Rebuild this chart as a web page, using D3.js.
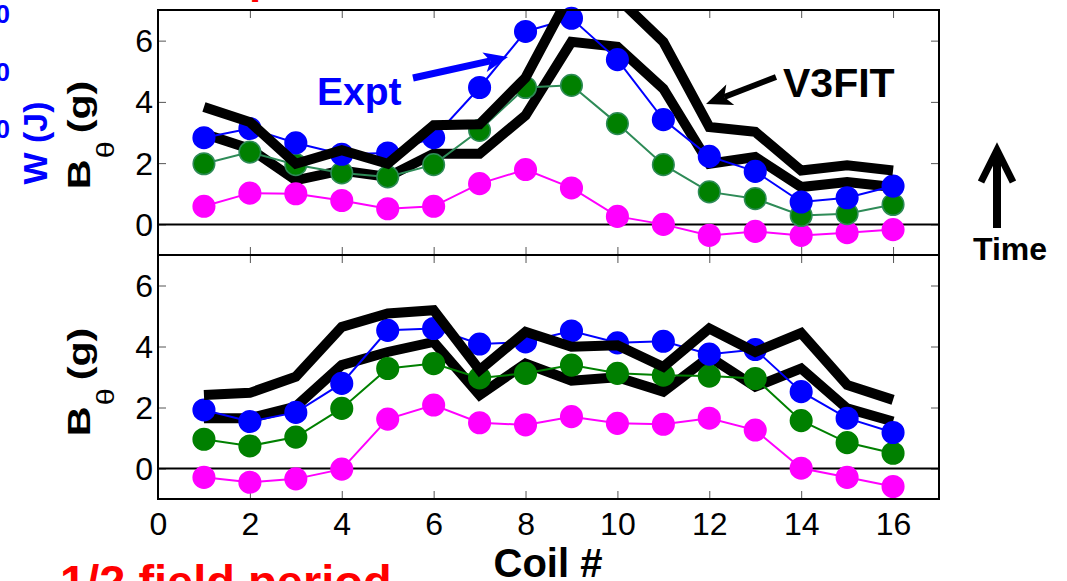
<!DOCTYPE html>
<html>
<head>
<meta charset="utf-8">
<script src="https://cdn.jsdelivr.net/npm/d3@7"></script>
<style>
  html, body { margin: 0; padding: 0; background: #fff; }
  svg { display: block; }
</style>
</head>
<body>
<div id="chart"></div>
<script>
// ── data ────────────────────────────────────────────────────
const coils = d3.range(1, 17);
const xTicks = [0, 2, 4, 6, 8, 10, 12, 14, 16];
const yTicks = [0, 2, 4, 6];

// upper panel
const topExpt    = [2.83, 3.13, 2.66, 2.29, 2.33, 2.83, 4.47, 6.30, 6.73, 5.38, 3.42, 2.22, 1.73, 0.73, 0.87, 1.25];
const topGreen   = [1.98, 2.36, 1.95, 1.68, 1.55, 1.95, 3.07, 4.47, 4.54, 3.29, 1.95, 1.06, 0.84, 0.29, 0.35, 0.65];
const topMagenta = [0.59, 1.02, 1.00, 0.78, 0.51, 0.59, 1.33, 1.79, 1.19, 0.26, 0.00, -0.36, -0.23, -0.36, -0.27, -0.17];
const topFitHi   = [3.83, 3.34, 1.98, 2.42, 1.98, 3.24, 3.27, 4.79, 7.60, 7.40, 5.96, 3.18, 3.02, 1.76, 1.93, 1.76];
const topFitLo   = [2.96, 2.47, 1.44, 1.76, 1.55, 2.31, 2.31, 3.56, 5.96, 5.80, 4.43, 1.98, 2.20, 1.22, 1.38, 1.22];

// lower panel
const botExpt    = [1.92, 1.54, 1.84, 2.79, 4.53, 4.59, 4.08, 4.15, 4.51, 4.12, 4.17, 3.75, 3.90, 2.52, 1.65, 1.18];
const botGreen   = [0.96, 0.74, 1.03, 1.97, 3.28, 3.44, 2.97, 3.12, 3.39, 3.12, 3.06, 3.03, 2.95, 1.57, 0.85, 0.50];
const botMagenta = [-0.29, -0.45, -0.34, -0.02, 1.62, 2.08, 1.50, 1.43, 1.70, 1.48, 1.45, 1.65, 1.26, 0.01, -0.29, -0.59];
const botFitHi   = [2.41, 2.48, 3.01, 4.64, 5.08, 5.19, 3.23, 4.48, 3.99, 4.04, 3.33, 4.59, 3.82, 4.44, 2.74, 2.25];
const botFitLo   = [1.65, 1.65, 2.03, 3.39, 3.82, 4.15, 2.41, 3.44, 2.88, 2.99, 2.52, 3.66, 2.68, 3.28, 1.97, 1.54];

const FONT = "'Liberation Sans', Arial, Helvetica, sans-serif";
const W = 1067, H = 581;

const svg = d3.select("#chart").append("svg")
  .attr("width", W).attr("height", H)
  .attr("font-family", FONT);

const x = d3.scaleLinear().domain([0, 17]).range([158, 939]);

const panels = [
  { id: "top", y: d3.scaleLinear().domain([-1, 7]).range([255, 10]),
    expt: topExpt, green: topGreen, mag: topMagenta, hi: topFitHi, lo: topFitLo,
    greenLine: "#2e8b57", greenEdge: "#2e8b57", labels: false, labelY: 135 },
  { id: "bot", y: d3.scaleLinear().domain([-1, 7]).range([499, 255]),
    expt: botExpt, green: botGreen, mag: botMagenta, hi: botFitHi, lo: botFitLo,
    greenLine: "#008000", greenEdge: "#008000", labels: true, labelY: 382 }
];

panels.forEach(p => {
  const y = p.y;
  const [y0, y1] = y.range();
  const g = svg.append("g");

  // clip for the thick fit lines
  svg.append("clipPath").attr("id", "clip-" + p.id)
    .append("rect")
    .attr("x", x(0)).attr("y", y1)
    .attr("width", x(17) - x(0)).attr("height", y0 - y1);

  // ticks (inside)
  const styleAxis = a => {
    a.select(".domain").remove();
    a.selectAll(".tick line").attr("stroke", "#555").attr("stroke-width", 1);
    a.attr("font-family", FONT);
  };
  g.append("g").attr("transform", `translate(0,${y0})`)
    .call(d3.axisBottom(x).tickValues(xTicks).tickSizeInner(-8).tickSizeOuter(0)
      .tickPadding(13).tickFormat(p.labels ? d3.format("d") : ""))
    .call(styleAxis)
    .call(a => a.selectAll("text").attr("font-size", 32).attr("fill", "#000"));
  g.append("g").attr("transform", `translate(0,${y1})`)
    .call(d3.axisTop(x).tickValues(xTicks).tickSizeInner(-8).tickSizeOuter(0).tickFormat(""))
    .call(styleAxis);
  g.append("g").attr("transform", `translate(${x(0)},0)`)
    .call(d3.axisLeft(y).tickValues(yTicks).tickSizeInner(-8).tickSizeOuter(0).tickPadding(5))
    .call(styleAxis)
    .call(a => a.selectAll("text").attr("font-size", 32).attr("fill", "#000").attr("dy", "0.34em"));
  g.append("g").attr("transform", `translate(${x(17)},0)`)
    .call(d3.axisRight(y).tickValues(yTicks).tickSizeInner(-8).tickSizeOuter(0).tickFormat(""))
    .call(styleAxis);

  // zero line
  g.append("line")
    .attr("x1", x(0)).attr("x2", x(17))
    .attr("y1", y(0)).attr("y2", y(0))
    .attr("stroke", "#000").attr("stroke-width", 2);

  const line = d3.line().x((d, i) => x(coils[i])).y(d => y(d));

  const fit = vals => g.append("path")
    .attr("d", line(vals))
    .attr("clip-path", `url(#clip-${p.id})`)
    .attr("fill", "none").attr("stroke", "#000")
    .attr("stroke-width", 10).attr("stroke-linejoin", "miter");

  const series = (vals, lineColor, fill, edge) => {
    g.append("path").attr("d", line(vals))
      .attr("fill", "none").attr("stroke", lineColor).attr("stroke-width", 2);
    g.append("g").selectAll("circle").data(vals).enter()
      .append("circle")
      .attr("cx", (d, i) => x(coils[i])).attr("cy", d => y(d))
      .attr("r", 10.8)
      .attr("fill", fill).attr("stroke", edge).attr("stroke-width", 1.5);
  };

  fit(p.lo);
  series(p.mag, "#ff00ff", "#ff00ff", "#ff00ff");
  series(p.green, p.greenLine, "#008000", p.greenEdge);
  series(p.expt, "#0000ff", "#0000ff", "#0000ff");
  fit(p.hi);

  // frame
  g.append("rect")
    .attr("x", x(0)).attr("y", y1)
    .attr("width", x(17) - x(0)).attr("height", y0 - y1)
    .attr("fill", "none").attr("stroke", "#000").attr("stroke-width", 2);

  // y label  B_θ (g)  (stretched along its length like the original)
  const lab = svg.append("text")
    .attr("transform", `translate(90,${p.labelY}) rotate(-90) scale(1.33,1)`)
    .attr("text-anchor", "middle")
    .attr("font-weight", "bold").attr("font-size", 31).attr("fill", "#000");
  lab.append("tspan").text("B");
  lab.append("tspan").text("θ").attr("font-weight", "normal")
    .attr("font-size", 23).attr("dy", 24).attr("dx", 1);
  lab.append("tspan").text("(g)").attr("dy", -24).attr("dx", 6);
});

// x label
svg.append("text")
  .attr("x", 548).attr("y", 577)
  .attr("text-anchor", "middle")
  .attr("font-weight", "bold").attr("font-size", 40)
  .text("Coil #");

// ── annotations ─────────────────────────────────────────────
function arrow(x1, y1, x2, y2, color, lw, headLen, headW) {
  const dx = x2 - x1, dy = y2 - y1, L = Math.hypot(dx, dy);
  const ux = dx / L, uy = dy / L, nx = -uy, ny = ux;
  const bx = x2 - ux * headLen, by = y2 - uy * headLen;
  const vx = x2 - ux * headLen * 0.75, vy = y2 - uy * headLen * 0.75;
  svg.append("line")
    .attr("x1", x1).attr("y1", y1).attr("x2", vx).attr("y2", vy)
    .attr("stroke", color).attr("stroke-width", lw);
  svg.append("polygon")
    .attr("points", [
      [x2, y2],
      [bx + nx * headW / 2, by + ny * headW / 2],
      [vx, vy],
      [bx - nx * headW / 2, by - ny * headW / 2]
    ].map(q => q.join(",")).join(" "))
    .attr("fill", color);
}

svg.append("text")
  .attr("x", 317).attr("y", 105)
  .attr("font-weight", "bold").attr("font-size", 39).attr("fill", "#0000ff")
  .text("Expt");
arrow(413, 78, 508, 57, "#0000ff", 7, 24, 20);

svg.append("text")
  .attr("x", 783).attr("y", 97)
  .attr("font-weight", "bold").attr("font-size", 41).attr("fill", "#000")
  .text("V3FIT");
arrow(776, 77, 706, 104, "#000", 6, 26, 22);

// time arrow on the right
svg.append("line")
  .attr("x1", 997).attr("y1", 228).attr("x2", 997).attr("y2", 150)
  .attr("stroke", "#000").attr("stroke-width", 8);
svg.append("polyline")
  .attr("points", "981,182 997,150 1013,182")
  .attr("fill", "none").attr("stroke", "#000").attr("stroke-width", 7)
  .attr("stroke-linejoin", "miter");
svg.append("text")
  .attr("x", 1010).attr("y", 260)
  .attr("text-anchor", "middle")
  .attr("font-weight", "bold").attr("font-size", 32)
  .text("Time");

// cropped text at the edges
svg.append("text")
  .attr("transform", "translate(47,143) rotate(-90)")
  .attr("text-anchor", "middle")
  .attr("font-weight", "bold").attr("font-size", 34).attr("fill", "#0000ff")
  .text("W (J)");
[23, 81, 138].forEach(yy => svg.append("text")
  .attr("x", 10).attr("y", yy).attr("text-anchor", "end")
  .attr("font-weight", "bold").attr("font-size", 26).attr("fill", "#0000ff")
  .text("0"));
svg.append("text")
  .attr("x", 249).attr("y", -7)
  .attr("font-weight", "bold").attr("font-size", 44).attr("fill", "#ff0000")
  .text("p");
svg.append("text")
  .attr("x", 60).attr("y", 598)
  .attr("font-weight", "bold").attr("font-size", 47).attr("fill", "#ff0000")
  .text("1/2 field period");
</script>
</body>
</html>
